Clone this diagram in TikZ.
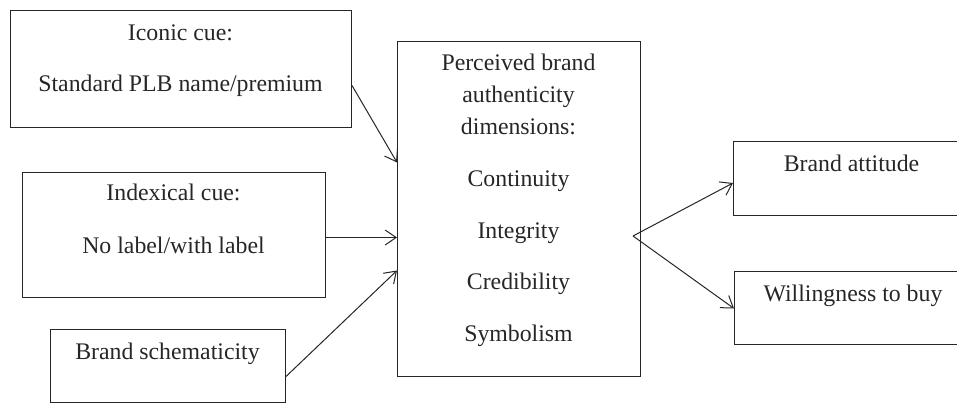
\documentclass[tikz,border=0pt]{standalone}
\usepackage{fontspec}
\setmainfont{Liberation Serif}
\usetikzlibrary{arrows.meta}
\definecolor{ink}{HTML}{262626}
\begin{document}
\begin{tikzpicture}[x=1pt,y=-1pt,
  box/.style={draw=ink,line width=1pt,rectangle,inner sep=0pt,anchor=north west},
  txt/.style={anchor=base,inner sep=0pt,text=ink,font=\fontsize{23.8}{28}\selectfont},
  conn/.style={draw=ink,line width=1pt,-{Straight Barb[length=11pt,width=15pt,line width=1pt]}}]
\useasboundingbox (0,0) rectangle (957,403);
\begin{scope}
\clip (0,0) rectangle (957,403);
% boxes
\node[box,minimum width=341pt,minimum height=117pt] (icon) at (10,10) {};
\node[box,minimum width=303pt,minimum height=125pt] (index) at (22,172) {};
\node[box,minimum width=235pt,minimum height=73pt] (schem) at (50,329) {};
\node[box,minimum width=243pt,minimum height=335pt] (pba) at (397,41) {};
\node[box,minimum width=238pt,minimum height=74pt] (att) at (733,141) {};
\node[box,minimum width=238pt,minimum height=73pt] (wtb) at (734,271) {};
% texts
\node[txt] (t1) at (180.5,40.7) {Iconic cue:};
\node[txt] (t2) at (180.5,91.7) {Standard PLB name/premium};
\node[txt] (t3) at (173.5,201) {Indexical cue:};
\node[txt] (t4) at (173.5,253) {No label/with label};
\node[txt] (t5) at (167.5,359) {Brand schematicity};
\node[txt] (c1) at (518.5,71) {Perceived brand};
\node[txt] (c2) at (518.5,102.7) {authenticity};
\node[txt] (c3) at (518.5,134.3) {dimensions:};
\node[txt] (c4) at (518.5,186.7) {Continuity};
\node[txt] (c5) at (518.5,238.3) {Integrity};
\node[txt] (c6) at (518.5,289.3) {Credibility};
\node[txt] (c7) at (518.5,341.7) {Symbolism};
\node[txt] (r1) at (851.5,171.7) {Brand attitude};
\node[txt] (r2) at (853,301) {Willingness to buy};
% connectors
\coordinate (fork) at (633,236);
\draw[conn] ([yshift=-16.5pt]icon.east) -- ([yshift=46.5pt]pba.west);
\draw[conn] ([yshift=-2.5pt]index.east) -- ([yshift=-28.5pt]pba.west);
\draw[conn] ([yshift=-10.5pt]schem.east) -- ([yshift=-61.5pt]pba.west);
\draw[conn] (fork) -- ([yshift=-4.5pt]att.west);
\draw[conn] (fork) -- ([yshift=-0.5pt]wtb.west);
\end{scope}
\end{tikzpicture}
\end{document}
